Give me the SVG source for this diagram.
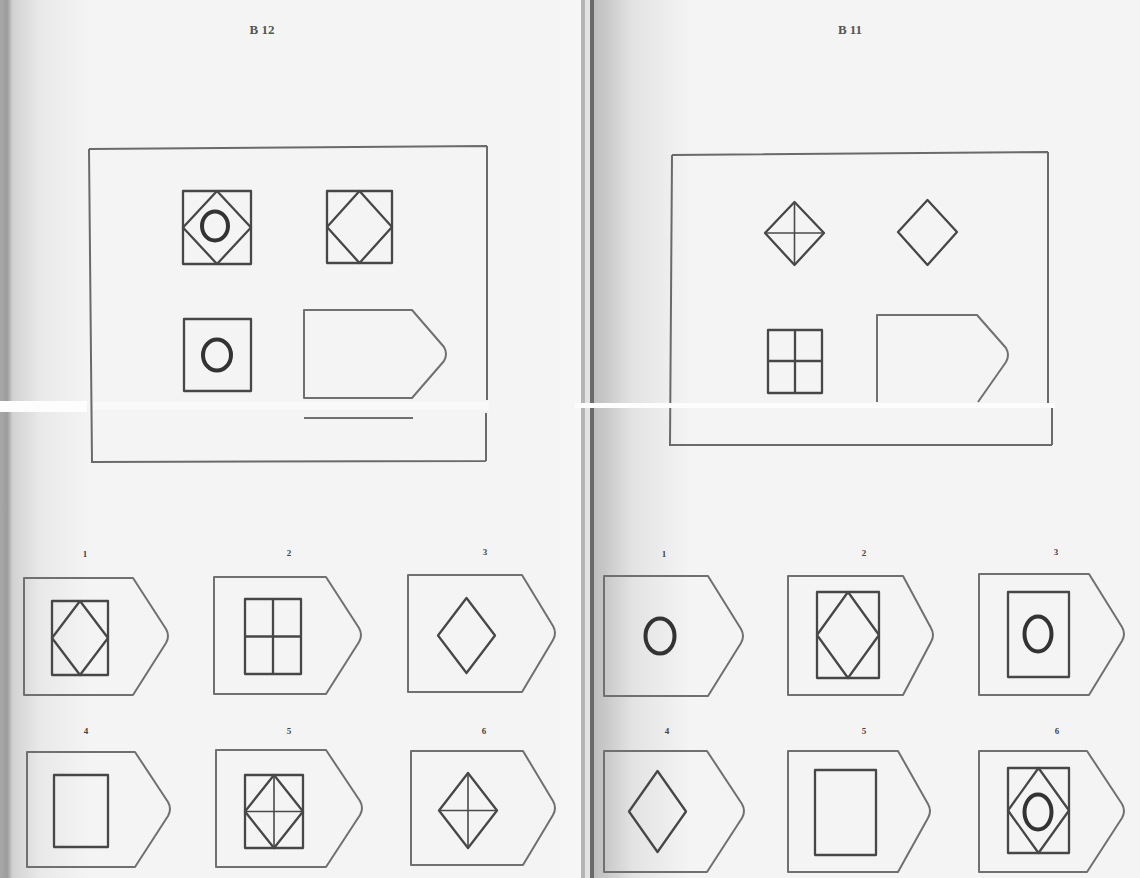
<svg xmlns="http://www.w3.org/2000/svg" width="1140" height="878" viewBox="0 0 1140 878">
<defs>
<style>
.ln{fill:none;stroke:#5a5a5a;stroke-width:2;stroke-linejoin:round}
.fr{fill:none;stroke:#6a6a6a;stroke-width:2}
.tag{fill:none;stroke:#707070;stroke-width:2;stroke-linejoin:round}
.fig{fill:none;stroke:#474747;stroke-width:2.3;stroke-linejoin:round}
.thin{fill:none;stroke:#4a4a4a;stroke-width:1.6}
.ring{fill:none;stroke:#333;stroke-width:4}
.num{font-family:"Liberation Serif",serif;font-weight:bold;font-size:9px;fill:#444;text-anchor:middle}
.ttl{font-family:"Liberation Serif",serif;font-weight:bold;font-size:13px;fill:#555;text-anchor:middle}
</style>
<linearGradient id="lp" x1="0" y1="0" x2="90" y2="0" gradientUnits="userSpaceOnUse">
<stop offset="0" stop-color="#a8a8a8"/><stop offset="0.08" stop-color="#9c9c9c"/><stop offset="0.14" stop-color="#d2d2d2"/><stop offset="0.45" stop-color="#e9e9e9"/><stop offset="1" stop-color="#f4f4f4"/>
</linearGradient>
<linearGradient id="rp" x1="594" y1="0" x2="690" y2="0" gradientUnits="userSpaceOnUse">
<stop offset="0" stop-color="#bdbdbd"/><stop offset="0.4" stop-color="#e3e3e3"/><stop offset="1" stop-color="#f4f4f4"/>
</linearGradient>
</defs>
<rect width="1140" height="878" fill="#f4f4f4"/>
<rect x="0" y="0" width="90" height="878" fill="url(#lp)"/>
<rect x="594" y="0" width="96" height="878" fill="url(#rp)"/>
<rect x="560" y="0" width="21" height="878" fill="#f6f6f6"/>
<rect x="581" y="0" width="4" height="878" fill="#b5b5b5"/>
<rect x="585" y="0" width="5" height="878" fill="#e2e2e2"/>
<rect x="590" y="0" width="4" height="878" fill="#6a6a6a"/>

<text class="ttl" x="262" y="34">B 12</text>
<text class="ttl" x="850" y="34">B 11</text>

<g id="frame-b12">
<path class="fr" d="M89,149 L487,146 M89,149 L92,462 L486,461 M487,146 L487,400 M486,413 L486,461"/>
</g>
<g id="frame-b11">
<path class="fr" d="M672,155 L1048,152 M672,155 L670,445 L1052,445 M1048,152 L1048,405 M1052,408 L1052,445"/>
</g>

<g id="b12-cell-1">
<rect class="fig" x="183" y="191" width="68" height="73"/>
<path class="fig" d="M217,191 L251,227.5 L217,264 L183,227.5 Z"/>
<ellipse class="ring" cx="215" cy="226" rx="13" ry="14.5"/>
</g>
<g id="b12-cell-2">
<rect class="fig" x="327" y="191" width="65" height="72"/>
<path class="fig" d="M359.5,191 L392,227 L359.5,263 L327,227 Z"/>
</g>
<g id="b12-cell-3">
<rect class="fig" x="184" y="319" width="67" height="72"/>
<ellipse class="ring" cx="217" cy="355" rx="14" ry="15.5"/>
</g>
<g id="b12-cell-4">
<path class="tag" d="M304,310 H412 L444,347 Q448,354 444,361 L412,398 H304 Z"/>
<line class="tag" x1="304" y1="418" x2="413" y2="418"/>
</g>

<g id="b11-cell-1">
<path class="fig" d="M794.5,202 L824,233 L794.5,265 L765,233 Z"/>
<path class="thin" d="M794.5,202 V265 M765,233 H824"/>
</g>
<g id="b11-cell-2">
<path class="fig" d="M927.5,200 L957,232 L927.5,265 L898,232 Z"/>
</g>
<g id="b11-cell-3">
<rect class="fig" x="768" y="330" width="54" height="63"/>
<path class="fig" d="M795,330 V393 M768,361 H822"/>
</g>
<g id="b11-cell-4">
<path class="tag" d="M877,402 V315 H977 L1006,348 Q1010,355 1006,362 L978,402"/>
</g>

<rect x="0" y="401" width="87" height="11" fill="#fdfdfd"/>
<rect x="93" y="402" width="396" height="8" fill="#fbfbfb" opacity="0.6"/>
<rect x="575" y="403" width="480" height="5" fill="#fdfdfd"/>

<g id="b12-opt-1">
<text class="num" x="85" y="557">1</text>
<path class="tag" d="M24,578 H133 L166,629 Q170,636 166,643 L133,695 H24 Z"/>
<rect class="fig" x="52" y="601" width="56" height="74"/>
<path class="fig" d="M80,601 L108,638 L80,675 L52,638 Z"/>
</g>
<g id="b12-opt-2">
<text class="num" x="289" y="556">2</text>
<path class="tag" d="M214,577 H326 L359,628 Q363,635 359,642 L326,694 H214 Z"/>
<rect class="fig" x="245" y="599" width="56" height="75"/>
<path class="fig" d="M273,599 V674 M245,636.5 H301"/>
</g>
<g id="b12-opt-3">
<text class="num" x="485" y="555">3</text>
<path class="tag" d="M408,575 H522 L553,626 Q557,633 553,640 L522,692 H408 Z"/>
<path class="fig" d="M466.5,598 L495,635.5 L466.5,673 L438,635.5 Z"/>
</g>
<g id="b12-opt-4">
<text class="num" x="86" y="734">4</text>
<path class="tag" d="M27,752 H135 L168,802 Q172,809 168,816 L135,867 H27 Z"/>
<rect class="fig" x="54" y="775" width="54" height="72"/>
</g>
<g id="b12-opt-5">
<text class="num" x="289" y="734">5</text>
<path class="tag" d="M216,750 H326 L360,801 Q364,808 360,815 L326,867 H216 Z"/>
<rect class="fig" x="245" y="775" width="58" height="73"/>
<path class="fig" d="M274,775 L303,811.5 L274,848 L245,811.5 Z"/>
<path class="thin" d="M274,775 V848 M245,811.5 H303"/>
</g>
<g id="b12-opt-6">
<text class="num" x="484" y="734">6</text>
<path class="tag" d="M411,751 H523 L553,801 Q557,808 553,815 L523,865 H411 Z"/>
<path class="fig" d="M468,773 L497,810.5 L468,848 L439,810.5 Z"/>
<path class="thin" d="M468,773 V848 M439,810.5 H497"/>
</g>

<g id="b11-opt-1">
<text class="num" x="664" y="557">1</text>
<path class="tag" d="M604,576 H708 L741,629 Q745,636 741,643 L708,696 H604 Z"/>
<ellipse class="ring" cx="660" cy="636" rx="14.5" ry="17.5" stroke-width="4.5"/>
</g>
<g id="b11-opt-2">
<text class="num" x="864" y="556">2</text>
<path class="tag" d="M788,576 H903 L931,628 Q935,635 931,642 L903,695 H788 Z"/>
<rect class="fig" x="817" y="592" width="62" height="86"/>
<path class="fig" d="M848,592 L879,635 L848,678 L817,635 Z"/>
</g>
<g id="b11-opt-3">
<text class="num" x="1056" y="555">3</text>
<path class="tag" d="M979,574 H1089 L1122,627 Q1126,634 1122,641 L1089,695 H979 Z"/>
<rect class="fig" x="1008" y="592" width="61" height="85"/>
<ellipse class="ring" cx="1038" cy="634" rx="13.5" ry="17.5" stroke-width="4.5"/>
</g>
<g id="b11-opt-4">
<text class="num" x="667" y="734">4</text>
<path class="tag" d="M604,751 H707 L742,804 Q746,811 742,818 L707,872 H604 Z"/>
<path class="fig" d="M657.5,771 L686,811.5 L657.5,852 L629,811.5 Z"/>
</g>
<g id="b11-opt-5">
<text class="num" x="864" y="734">5</text>
<path class="tag" d="M788,751 H898 L928,804 Q932,811 928,818 L898,872 H788 Z"/>
<rect class="fig" x="815" y="770" width="61" height="85"/>
</g>
<g id="b11-opt-6">
<text class="num" x="1057" y="734">6</text>
<path class="tag" d="M979,751 H1087 L1122,804 Q1126,811 1122,818 L1087,872 H979 Z"/>
<rect class="fig" x="1008" y="768" width="61" height="85"/>
<path class="fig" d="M1038.5,768 L1069,810.5 L1038.5,853 L1008,810.5 Z"/>
<ellipse class="ring" cx="1038" cy="812" rx="13.5" ry="17.5" stroke-width="4.5"/>
</g>
</svg>
